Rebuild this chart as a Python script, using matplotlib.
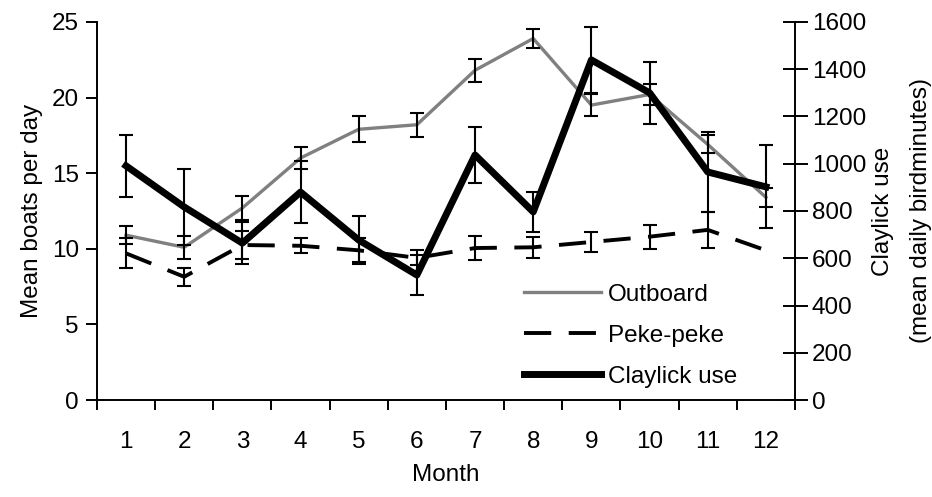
import numpy as np
import matplotlib
matplotlib.use("Agg")
import matplotlib.pyplot as plt
from matplotlib.lines import Line2D


# ── 1. Data ──────────────────────────────────────────────────────────────────

months = np.arange(1, 13)
month_labels = [str(m) for m in months]

outboard     = [10.9, 10.1, 12.7, 16.0, 17.9, 18.2, 21.8, 23.9, 19.5, 20.2, 16.9, 13.4]
outboard_err = [0.6, 0.75, 0.8, 0.7, 0.85, 0.8, 0.75, 0.65, 0.7, 0.7, 0.6, 0.65]

peke     = [9.7, 8.15, 10.25, 10.2, 9.9, 9.4, 10.05, 10.1, 10.45, 10.8, 11.25, 9.9]
peke_err = [1.0, 0.6, 0.9, 0.5, 0.8, 0.5, 0.8, 0.7, 0.65, 0.8, 1.2, np.nan]

claylick     = [991, 817, 664, 880, 677, 529, 1037, 796, 1439, 1300, 965, 902]
claylick_err = [130, 160, 90, 130, 100, 85, 120, 85, 140, 130, 170, 175]


# ── 2. Figure ────────────────────────────────────────────────────────────────

plt.rcParams['font.family'] = ['Liberation Sans', 'DejaVu Sans']
FS = 17.5
DASH = (0, (7, 4.5))

fig = plt.figure(figsize=(9.32, 4.97), dpi=100)
ax = fig.add_axes([0.104, 0.195, 0.749, 0.761])
ax2 = ax.twinx()

ax.plot(months, outboard, color='#808080', lw=2.4, zorder=2)
ax.errorbar(months, outboard, yerr=outboard_err, fmt='none', ecolor='black',
            elinewidth=1.5, capsize=5, capthick=1.5, zorder=3)

ax.plot(months, peke, color='black', lw=2.8, linestyle=DASH, zorder=2)
ax.errorbar(months, peke, yerr=peke_err, fmt='none', ecolor='black',
            elinewidth=1.5, capsize=5, capthick=1.5, zorder=3)

ax2.plot(months, claylick, color='black', lw=5, zorder=2)
ax2.errorbar(months, claylick, yerr=claylick_err, fmt='none', ecolor='black',
             elinewidth=1.5, capsize=5, capthick=1.5, zorder=3)


# ── 3. Axes ──────────────────────────────────────────────────────────────────

ax.set_xlim(0.5, 12.5)
ax.set_ylim(0, 25)
ax2.set_ylim(0, 1600)

ax.set_xticks(np.arange(0.5, 13, 1))
ax.set_xticklabels([])
ax.set_xticks(months, minor=True)
ax.set_xticklabels(month_labels, minor=True, fontsize=FS)
ax.tick_params(axis='x', which='major', direction='out', length=7, width=1.4)
ax.tick_params(axis='x', which='minor', length=0, pad=22)

ax.set_yticks(range(0, 26, 5))
ax.tick_params(axis='y', direction='out', length=8, width=1.4, labelsize=FS, pad=5)
ax2.set_yticks(range(0, 1601, 200))
ax2.tick_params(axis='y', direction='inout', length=18, width=1.4, labelsize=FS, pad=3)

for a in (ax, ax2):
    a.spines['top'].set_visible(False)
    for s in ('left', 'right', 'bottom'):
        a.spines[s].set_linewidth(1.4)
ax.spines['right'].set_visible(False)
ax2.spines['left'].set_visible(False)
ax2.spines['bottom'].set_visible(False)

ax.set_xlabel('Month', fontsize=FS, labelpad=8)
ax.set_ylabel('Mean boats per day', fontsize=FS, labelpad=6)
ax2.set_ylabel('Claylick use\n(mean daily birdminutes)', fontsize=FS,
               labelpad=4, linespacing=1.95)


# ── 4. Legend ────────────────────────────────────────────────────────────────

handles = [
    Line2D([], [], color='#808080', lw=2.4),
    Line2D([], [], color='black', lw=2.8, linestyle=DASH),
    Line2D([], [], color='black', lw=5),
]
ax2.legend(handles, ['Outboard', 'Peke-peke', 'Claylick use'], fontsize=FS,
           frameon=False, handlelength=3.2, handletextpad=0.25, labelspacing=0.78,
           loc='upper left', bbox_to_anchor=(0.58, 0.365))

fig.savefig('out.png', dpi=100)
